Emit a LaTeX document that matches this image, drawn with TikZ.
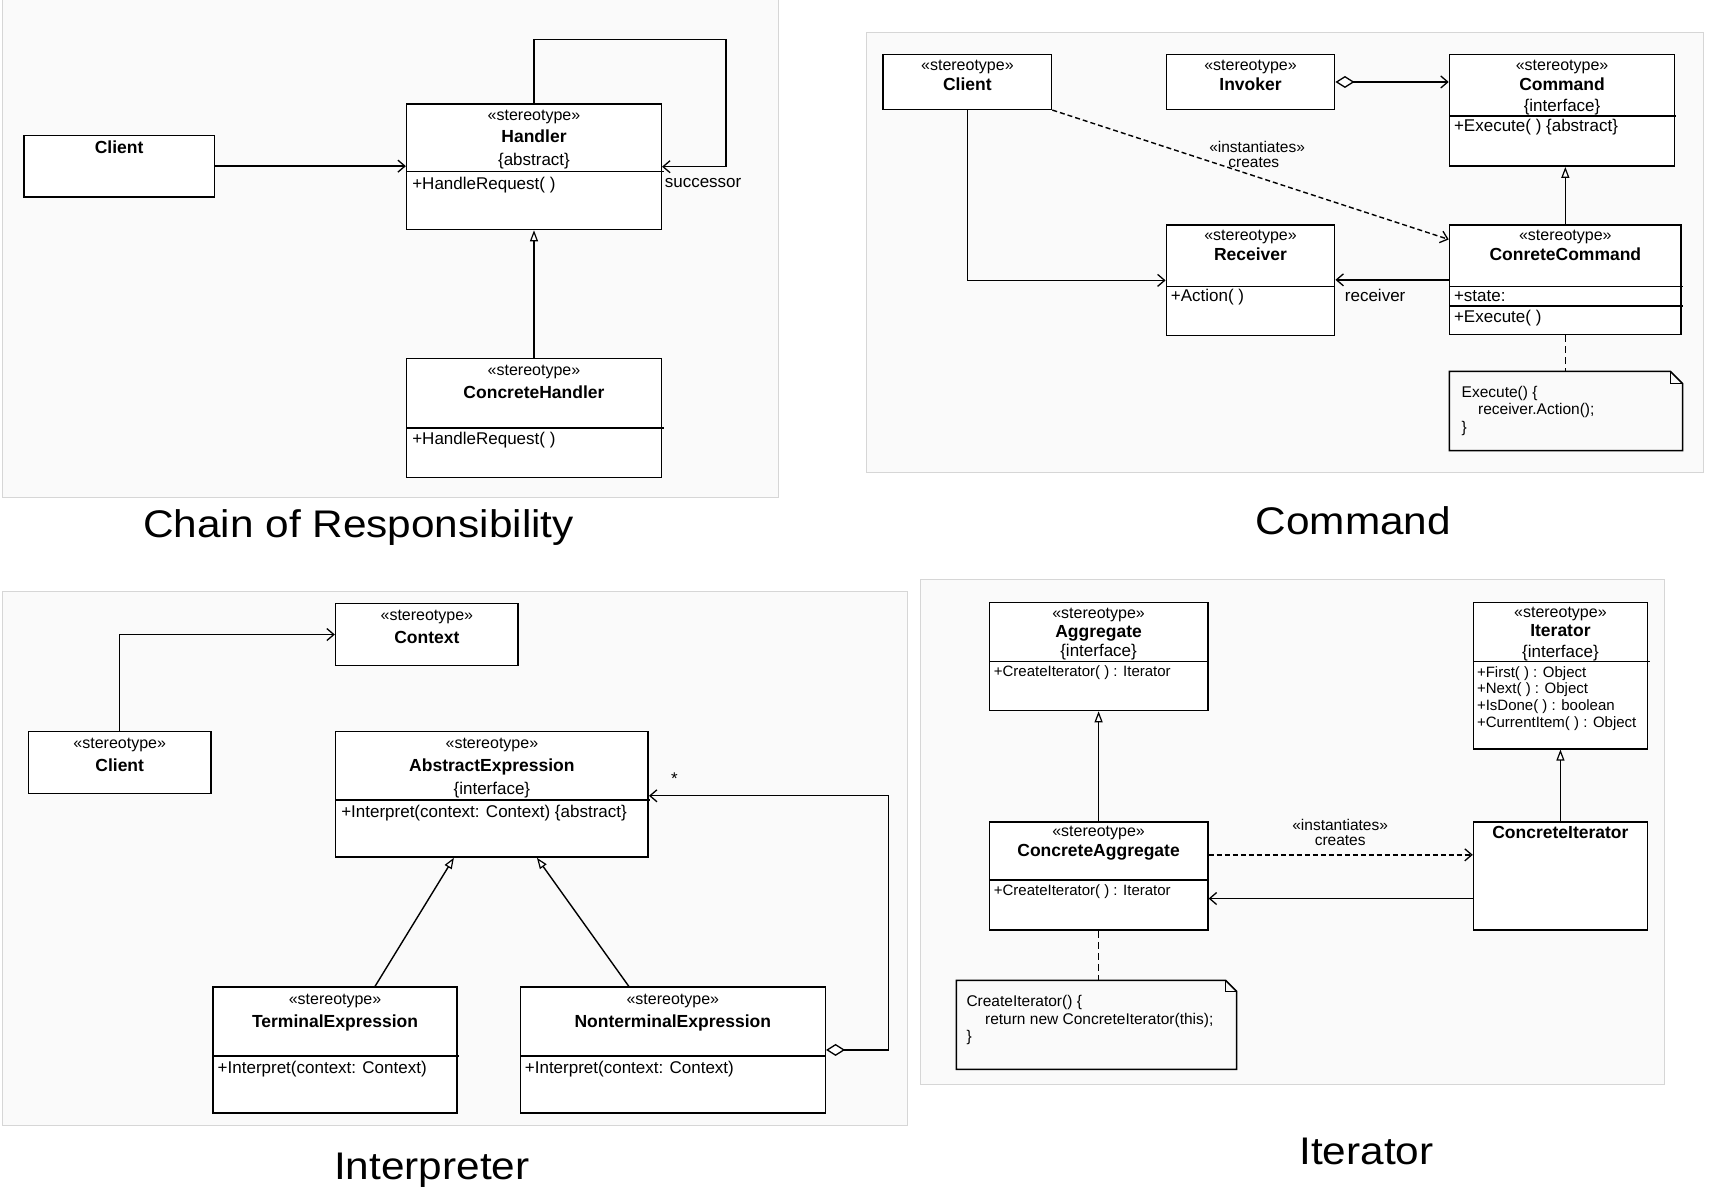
\documentclass[tikz,border=0pt]{standalone}
\usepackage{fontspec}
\setmainfont{Liberation Sans}
\usepackage{graphicx}
\usetikzlibrary{arrows.meta,fit,calc}
\tikzset{
  cls/.style={draw, line width=1.5pt, inner sep=0pt, fill=white},
  notebox/.style={inner sep=0pt},
  txt/.style={inner sep=0pt, yshift=-3.5pt},
  st/.style={txt, font=\fontsize{16}{18}\selectfont, anchor=mid},
  nm/.style={txt, font=\fontsize{17.5}{20}\selectfont\bfseries, anchor=mid},
  tx/.style={txt, font=\fontsize{17}{19}\selectfont, anchor=mid},
  sm/.style={txt, font=\fontsize{15.5}{18}\selectfont, anchor=mid},
  lt/.style={txt, font=\fontsize{17}{19}\selectfont, anchor=mid west},
  lts/.style={txt, font=\fontsize{15}{17}\selectfont, anchor=mid west},
  nt/.style={txt, font=\fontsize{15.5}{18}\selectfont, anchor=mid west},
  ttl/.style={font=\fontsize{38.5}{44}\selectfont, inner sep=0pt, anchor=base},
  panel/.style={fill=black!2, draw=black!16, line width=1pt},
  sep/.style={line width=1.5pt},
  conn/.style={line width=1.4pt},
  assoc/.style={conn, -{Straight Barb[length=7pt,width=12pt,line width=1.3pt]}},
  gen/.style={conn, -{Triangle[open,length=11pt,width=8pt,fill=white,line width=1.2pt]}},
  dep/.style={assoc, dash pattern=on 5pt off 3pt},
  notelink/.style={conn, dash pattern=on 7pt off 4pt},
  aggr/.style={conn, {Diamond[open,length=19pt,width=12pt,fill=white,line width=1.3pt]}-{Straight Barb[length=7pt,width=12pt,line width=1.3pt]}},
}
\begin{document}
\begin{tikzpicture}[x=1.0931pt,y=-1.0931pt]
\fill[white] (0,0) rectangle (1568,1089);
\useasboundingbox (0,0) rectangle (1568,1089);

% ---------- panels ----------
\draw[panel] (2,-2) rectangle (712,455);
\draw[panel] (793,30) rectangle (1558,432);
\draw[panel] (2,541) rectangle (830,1030);
\draw[panel] (842,530) rectangle (1523,992);

% ================= Chain of Responsibility =================
\node[cls, fit={(22,124) (196,180)}] (corclient) {};
\node[cls, fit={(372,95) (605,210)}] (handler) {};
\node[cls, fit={(372,328) (605,437)}] (chandler) {};
\draw[sep] (372,157) -- (607,157);
\draw[sep] (372,391.5) -- (607,391.5);
\node[nm] (tcorclient) at (109,135) {Client};
\node[st] (th1) at (488.5,104.5) {«stereotype»};
\node[nm] (th2) at (488.5,125) {Handler};
\node[tx] (th3) at (488.5,146) {\{abstract\}};
\node[lt] (th4) at (377,167.5) {+HandleRequest( )};
\node[st] (tch1) at (488.5,338) {«stereotype»};
\node[nm] (tch2) at (488.5,359) {ConcreteHandler};
\node[lt] (tch3) at (377,401) {+HandleRequest( )};
\coordinate (loopc) at (664,36);
\draw[assoc] (corclient.east) -- (corclient.east -| handler.west);
\draw[assoc] (handler.north) |- (loopc) |- (handler.east);
\node[lt] (tsucc) at (608,166) {successor};
\draw[gen] (chandler.north) -- (handler.south);
\node[ttl] (title1) at (328,492) {\scalebox{1.1}[1]{Chain of Responsibility}};

% ================= Command =================
\node[cls, fit={(808,50) (962,100)}] (cmdclient) {};
\node[cls, fit={(1067,50) (1221,100)}] (invoker) {};
\node[cls, fit={(1326,50) (1532,152)}] (command) {};
\node[cls, fit={(1067,206) (1221,307)}] (receiver) {};
\node[cls, fit={(1326,206) (1538,306)}] (cc) {};
\node[notebox, fit={(1326,340) (1539,412)}] (note1) {};
\draw[sep] (note1.north west) -- ([xshift=-12pt]note1.north east) -- ([yshift=-12pt]note1.north east) -- (note1.south east) -- (note1.south west) -- cycle;
\draw[line width=1.2pt] ([xshift=-12pt]note1.north east) -- ([xshift=-12pt,yshift=-12pt]note1.north east) -- ([yshift=-12pt]note1.north east);
\draw[sep] (1326,106) -- (1533,106);
\draw[sep] (1067,262) -- (1221,262);
\draw[sep] (1326,262) -- (1540,262);
\draw[sep] (1326,280) -- (1540,280);
\node[st] (tc1) at (885,59) {«stereotype»};
\node[nm] (tc2) at (885,77.5) {Client};
\node[st] (ti1) at (1144,59) {«stereotype»};
\node[nm] (ti2) at (1144,77.5) {Invoker};
\node[st] (tcm1) at (1429,59) {«stereotype»};
\node[nm] (tcm2) at (1429,77.5) {Command};
\node[tx] (tcm3) at (1429,96) {\{interface\}};
\node[lt] (tcm4) at (1330,115) {+Execute( ) \{abstract\}};
\node[st] (tr1) at (1144,214) {«stereotype»};
\node[nm] (tr2) at (1144,232.5) {Receiver};
\node[lt] (tr3) at (1071,270) {+Action( )};
\node[st] (tcc1) at (1432,214) {«stereotype»};
\node[nm] (tcc2) at (1432,232.5) {ConreteCommand};
\node[lt] (tcc3) at (1330,270.5) {+state:};
\node[lt] (tcc4) at (1330,289) {+Execute( )};
\node[nt] (tn1a) at (1337,358) {Execute() \{};
\node[nt] (tn1b) at (1352,374) {receiver.Action();};
\node[nt] (tn1c) at (1337,390) {\}};
\draw[aggr] (invoker.east) -- (invoker.east -| command.west);
\draw[assoc] (cmdclient.south) |- (receiver.west);
\draw[assoc] (cc.west) -- (cc.west -| receiver.east);
\node[tx] (trecv) at (1258,270) {receiver};
\draw[dep] (cmdclient.south east) -- ([yshift=-15pt]cc.north west);
\node[sm] (tinst1) at (1150,134) {«instantiates»};
\node[sm] (tinst2) at (1147,148) {creates};
\draw[gen] (cc.north) -- (cc.north |- command.south);
\draw[notelink] (cc.south) -- (cc.south |- note1.north);
\node[ttl] (title2) at (1238,489) {\scalebox{1.1}[1]{Command}};

% ================= Interpreter =================
\node[cls, fit={(307,552) (474,609)}] (context) {};
\node[cls, fit={(26,669) (193,726)}] (intclient) {};
\node[cls, fit={(307,669) (593,784)}] (abstract) {};
\node[cls, fit={(195,903) (418,1018)}] (terminal) {};
\node[cls, fit={(476,903) (755,1018)}] (nonterminal) {};
\draw[sep] (307,732) -- (595,732);
\draw[sep] (195,966) -- (420,966);
\draw[sep] (476,966) -- (756,966);
\node[st] (tx1) at (390.5,562) {«stereotype»};
\node[nm] (tx2) at (390.5,583) {Context};
\node[st] (tic1) at (109.5,679) {«stereotype»};
\node[nm] (tic2) at (109.5,700) {Client};
\node[st] (ta1) at (450,679) {«stereotype»};
\node[nm] (ta2) at (450,700) {AbstractExpression};
\node[tx] (ta3) at (450,721) {\{interface\}};
\node[lt] (ta4) at (312,742) {+Interpret(context: Context) \{abstract\}};
\node[st] (tt1) at (306.5,913) {«stereotype»};
\node[nm] (tt2) at (306.5,934) {TerminalExpression};
\node[lt] (tt3) at (199,976) {+Interpret(context: Context)};
\node[st] (tnt1) at (615.5,913) {«stereotype»};
\node[nm] (tnt2) at (615.5,934) {NonterminalExpression};
\node[lt] (tnt3) at (480,976) {+Interpret(context: Context)};
\draw[assoc] (intclient.north) |- (context.west);
\draw[gen] ([xshift=40pt]terminal.north) -- ([xshift=-38pt]abstract.south);
\draw[gen] ([xshift=-44pt]nonterminal.north) -- ([xshift=45pt]abstract.south);
\coordinate (aggc) at (813,728);
\draw[aggr] (nonterminal.east) -| (aggc) -- (aggc -| abstract.east);
\node[tx] (tstar) at (617,712) {*};
\node[ttl] (title3) at (395,1079) {\scalebox{1.1}[1]{Interpreter}};

% ================= Iterator =================
\node[cls, fit={(905,551) (1105,650)}] (aggregate) {};
\node[cls, fit={(1348,551) (1507,685)}] (iterator) {};
\node[cls, fit={(905,752) (1105,851)}] (cagg) {};
\node[cls, fit={(1348,752) (1507,851)}] (citer) {};
\node[notebox, fit={(875,897) (1131,978)}] (note2) {};
\draw[sep] (note2.north west) -- ([xshift=-11pt]note2.north east) -- ([yshift=-11pt]note2.north east) -- (note2.south east) -- (note2.south west) -- cycle;
\draw[line width=1.2pt] ([xshift=-11pt]note2.north east) -- ([xshift=-11pt,yshift=-11pt]note2.north east) -- ([yshift=-11pt]note2.north east);
\draw[sep] (905,605) -- (1106,605);
\draw[sep] (1348,605) -- (1509,605);
\draw[sep] (905,805) -- (1106,805);
\node[st] (tag1) at (1005,560) {«stereotype»};
\node[nm] (tag2) at (1005,577.5) {Aggregate};
\node[tx] (tag3) at (1005,595) {\{interface\}};
\node[lts] (tag4) at (909,613.5) {+CreateIterator( ) : Iterator};
\node[st] (tit1) at (1427.5,559) {«stereotype»};
\node[nm] (tit2) at (1427.5,577) {Iterator};
\node[tx] (tit3) at (1427.5,596) {\{interface\}};
\node[lts] (tit4) at (1351,614) {+First( ) : Object};
\node[lts] (tit5) at (1351,629) {+Next( ) : Object};
\node[lts] (tit6) at (1351,644.5) {+IsDone( ) : boolean};
\node[lts] (tit7) at (1351,660) {+CurrentItem( ) : Object};
\node[st] (tca1) at (1005,760) {«stereotype»};
\node[nm] (tca2) at (1005,778) {ConcreteAggregate};
\node[lts] (tca3) at (909,814) {+CreateIterator( ) : Iterator};
\node[nm] (tci1) at (1427.5,761) {ConcreteIterator};
\node[nt] (tn2a) at (884,915) {CreateIterator() \{};
\node[nt] (tn2b) at (901,931.5) {return new ConcreteIterator(this);};
\node[nt] (tn2c) at (884,947) {\}};
\draw[gen] (cagg.north) -- (aggregate.south);
\draw[gen] (citer.north) -- (iterator.south);
\draw[dep] ([yshift=21.3pt]cagg.east) -- ([yshift=21.3pt]cagg.east -| citer.west);
\draw[assoc] ([yshift=-22.4pt]citer.west) -- ([yshift=-22.4pt]citer.west -| cagg.east);
\node[sm] (tii1) at (1226,754) {«instantiates»};
\node[sm] (tii2) at (1226,767.5) {creates};
\draw[notelink] (cagg.south) -- (cagg.south |- note2.north);
\node[ttl] (title4) at (1250,1065) {\scalebox{1.1}[1]{Iterator}};
\end{tikzpicture}
\end{document}
